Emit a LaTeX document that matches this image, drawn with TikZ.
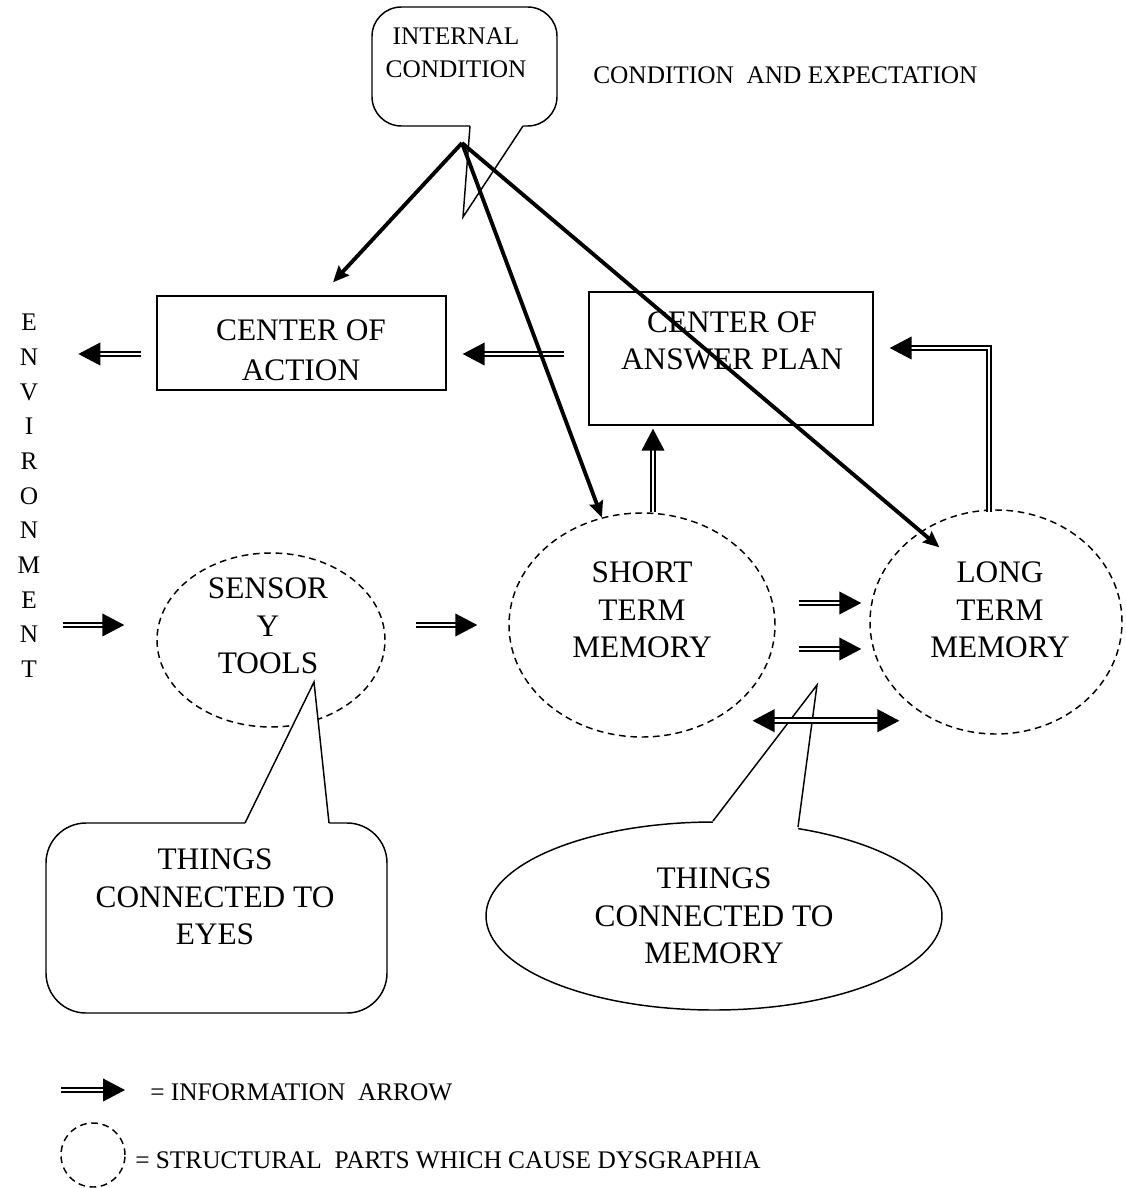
\documentclass[tikz,border=0pt]{standalone}
\usepackage{fontspec}
\setmainfont{Liberation Serif}
\usetikzlibrary{arrows.meta,shapes.geometric,calc}

\begin{document}
\begin{tikzpicture}[x=0.75pt,y=-0.75pt,
    bigtext/.style={font=\fontsize{23.5}{28}\selectfont, align=center, inner sep=0pt},
    smalltext/.style={font=\fontsize{19}{25}\selectfont, align=center, inner sep=0pt},
    box/.style={draw, line width=1pt, rectangle},
    structpart/.style={draw, ellipse, dash pattern=on 5pt off 3.5pt, line width=1.1pt, inner sep=0pt},
    callbox/.style={draw, line width=1.1pt, rectangle, rounded corners=22pt},
    infoarrow/.style={draw, double, double distance=2.2pt, line width=1.4pt, -{Triangle[length=16.5pt,width=17pt]}},
    infoboth/.style={infoarrow, {Triangle[length=16.5pt,width=17pt]}-{Triangle[length=16.5pt,width=17pt]}},
    thickarrow/.style={line width=2.9pt, -{Stealth[length=12pt,width=10.5pt,inset=1.5pt]}}]
    \useasboundingbox (0,0) rectangle (1125,1188);
    % memory parts
    \node[structpart, minimum width=171pt, minimum height=130.5pt] (sens) at (271,640) {};
    \node[structpart, minimum width=199.5pt, minimum height=168pt] (stm) at (642,625) {};
    \node[structpart, minimum width=189pt, minimum height=168pt] (ltm) at (996,622) {};
    % centers
    \node[box, minimum width=216.75pt, minimum height=70.5pt] (coa) at (301.5,343) {};
    \node[box, minimum width=213pt, minimum height=99.75pt] (ans) at (731,358.5) {};
    % callouts
    \node[callbox, minimum width=138.75pt, minimum height=89.25pt] (intbox) at (464.5,66.5) {};
    \fill[white] (470,126) -- (463,217) -- (523,126) -- (523,122) -- (470,122) -- cycle;
    \draw[line width=1.1pt] (470,126) -- (463,217) -- (523,126);
    \node[callbox, rounded corners=30pt, minimum width=255.75pt, minimum height=142.5pt] (eyebox) at (216.5,918) {};
    \fill[white] (245,823) -- (314,682) -- (329,823) -- (329,827) -- (245,827) -- cycle;
    \draw[line width=1.1pt] (245,823) -- (314,682) -- (329,823);
    \node[draw, ellipse, line width=1.1pt, bigtext, minimum width=342pt, minimum height=141pt] (memcall) at (714,916) {THINGS\\CONNECTED TO\\MEMORY};
    \fill[white] (713,821) -- (817,685) -- (798,827) -- (798,834) -- (713,828) -- cycle;
    \draw[line width=1.1pt] (713,821) -- (817,685) -- (798,827);
    % texts
    \node[bigtext, font=\fontsize{23.5}{30}\selectfont] (coatext) at (301,350) {CENTER OF\\ACTION};
    \node[bigtext] (senstext) at (268,626) {SENSOR\\Y\\TOOLS};
    \node[bigtext] (stmtext) at (642,610) {SHORT\\TERM\\MEMORY};
    \node[bigtext] (ltmtext) at (1000,610) {LONG\\TERM\\MEMORY};
    \node[bigtext] (anstext) at (732,341) {CENTER OF\\ANSWER PLAN};
    \node[bigtext] (eyetext) at (215,897) {THINGS\\CONNECTED TO\\EYES};
    \node[smalltext] (intcond) at (456,53) {INTERNAL\\CONDITION};
    \node[smalltext, anchor=west] (expect) at (593,75) {CONDITION\ \ AND EXPECTATION};
    \node[font=\fontsize{19}{26}\selectfont, align=center, inner sep=0pt] (env) at (29,496) {E\\N\\V\\I\\R\\O\\N\\M\\E\\N\\T};
    % information arrows
    \draw[infoarrow, shorten <=16.5pt, shorten >=24pt] (env.east |- stm.west) -- (sens.west |- stm.west);
    \draw[infoarrow, shorten <=22.5pt, shorten >=23.25pt] (sens.east |- stm.west) -- (stm.west);
    \draw[infoarrow] ($(stm.east)+(23,-22)$) -- ($(ltm.west)+(-8,-19)$);
    \draw[infoarrow] ($(stm.east)+(23,24)$) -- ($(ltm.west)+(-8,27)$);
    \draw[infoboth] ($(stm.south east)+(16,16)$) -- ($(ltm.south west)+(-7,19)$);
    \draw[infoarrow] ($(coa.west)+(-15,11)$) -- ($(coa.west)+(-78,11)$);
    \draw[infoarrow] ($(ans.west)+(-24,-4.5)$) -- ($(coa.east)+(16,11)$);
    \draw[infoarrow] ($(stm.north)+(11,0)$) -- ($(ans.south)+(-78,3)$);
    \draw[infoarrow] ($(ltm.north)+(-7,3)$) |- ($(ans.east)+(16,-10.5)$);
    % control arrows
    \coordinate (apex) at (462,143);
    \draw[thickarrow] (apex) -- ($(coa.north)+(31.5,-13)$);
    \draw[thickarrow] (apex) -- (stm);
    \draw[thickarrow] (apex) -- ($(ltm.north west)+(33,5)$);
    % legend
    \node[smalltext, anchor=west] (legarrow) at (150,1092) {= INFORMATION\ \ ARROW};
    \draw[infoarrow] ($(legarrow.west)+(-89,-2)$) -- ($(legarrow.west)+(-25,-2)$);
    \node[structpart, circle, minimum size=48pt] (legcirc) at (93,1155) {};
    \node[smalltext, anchor=west] (legdys) at (135,1160) {= STRUCTURAL\ \ PARTS WHICH CAUSE DYSGRAPHIA};
\end{tikzpicture}
\end{document}
